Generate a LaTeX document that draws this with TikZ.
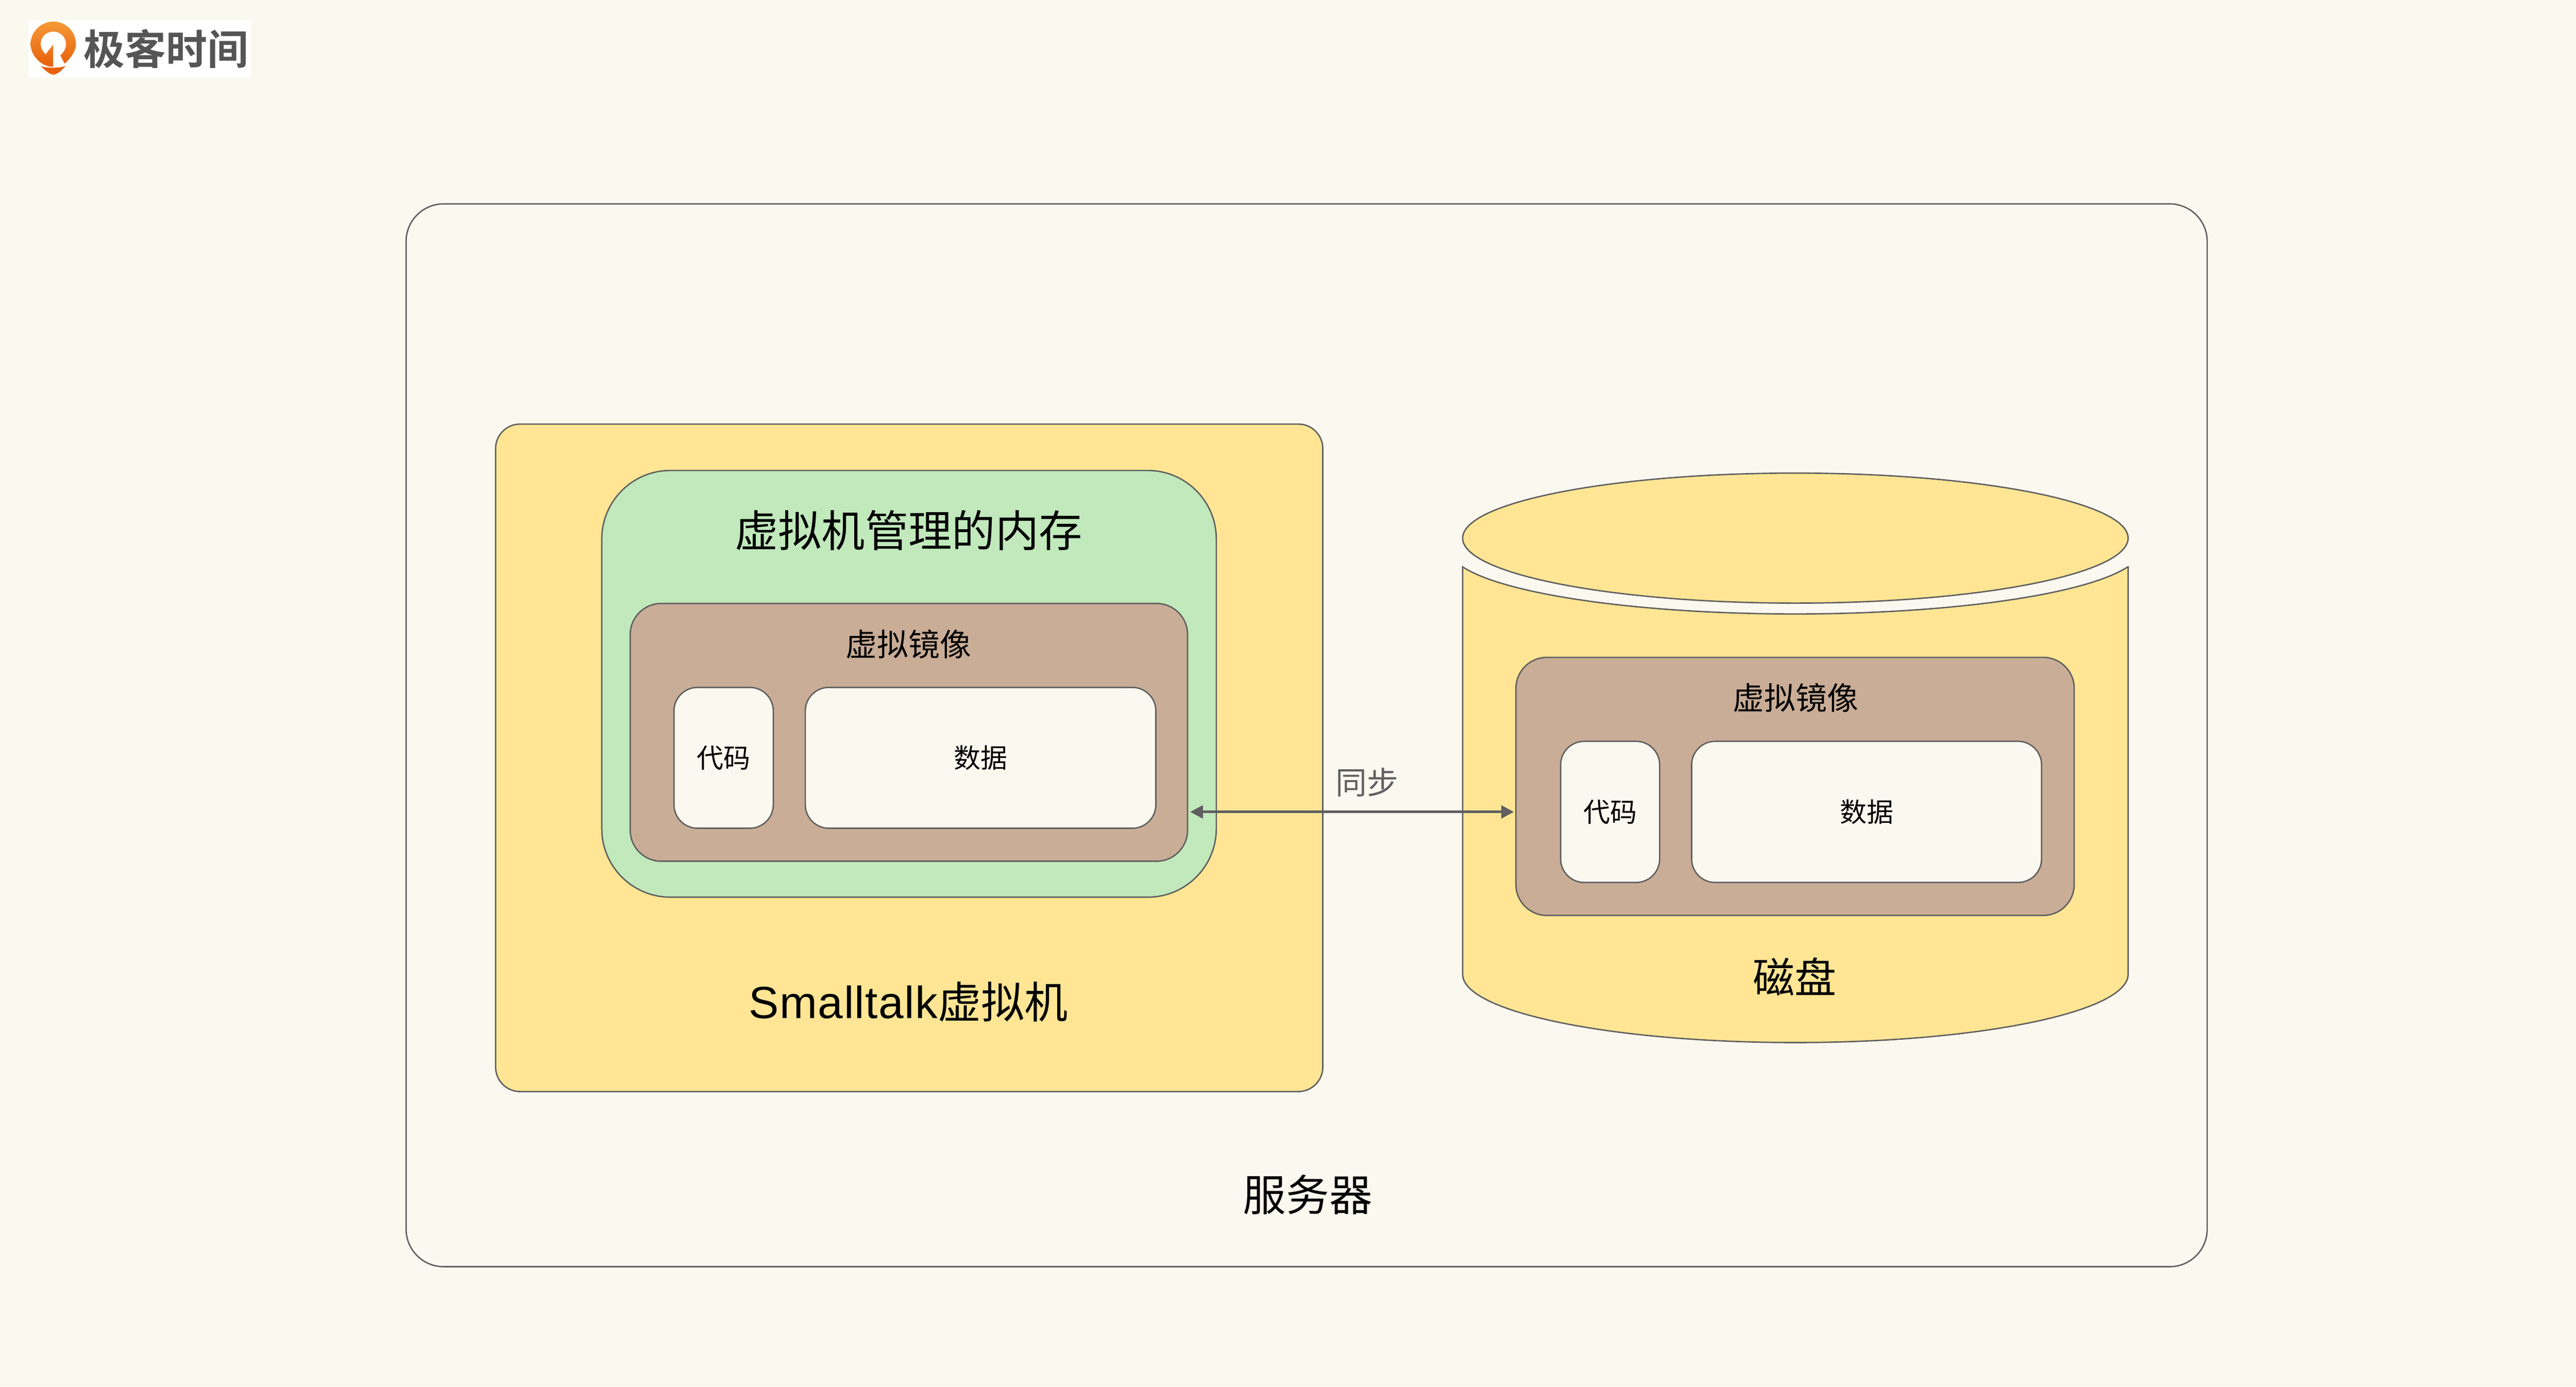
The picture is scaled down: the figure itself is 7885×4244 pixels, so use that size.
\documentclass[tikz,border=0pt]{standalone}
\usepackage{fontspec}
\usetikzlibrary{shapes.geometric,arrows.meta,calc}
\setmainfont{Noto Sans CJK SC}
\newfontfamily\logofont{Noto Sans CJK SC Bold}
\newfontfamily\latinfont[LetterSpace=1.6]{Liberation Sans}
\definecolor{bgc}{HTML}{FBF8F0}
\definecolor{edgec}{HTML}{5F5F5F}
\definecolor{yellowc}{HTML}{FFE594}
\definecolor{greenc}{HTML}{C1E9BC}
\definecolor{brownc}{HTML}{C9AD96}
\definecolor{logotop}{HTML}{F59A36}
\definecolor{logobot}{HTML}{E85F0C}
\definecolor{logogray}{HTML}{555555}
\tikzset{
  x=0.1pt,y=-0.1pt,
  framebox/.style={draw=edgec,line width=0.42pt,inner sep=0,outer sep=0},
  lbl/.style={inner sep=0,outer sep=0,text=black},
}
\newcommand{\bx}[7]{% name, x0, x1, y0, y1, radius, fill
  \node[framebox,fill=#7,rounded corners=#6*0.1pt,minimum width=(#3-#2)*0.1pt,minimum height=(#5-#4)*0.1pt] (#1) at ({(#2+#3)/2},{(#4+#5)/2}) {};
}
\begin{document}
\begin{tikzpicture}
\useasboundingbox (0,0) rectangle (7885,4244);
\fill[bgc] (0,0) rectangle (7885,4244);
% logo
\fill[white] (88,61) rectangle (768,237);
\begin{scope}[x=0.1pt/1.742,y=-0.1pt/3]
\path[top color=logotop,bottom color=logobot]
  (345,585) .. controls (385,520) and (405,460) .. (405,405)
  .. controls (405,290) and (350,198) .. (285,198)
  .. controls (220,198) and (163,290) .. (163,405)
  .. controls (163,500) and (215,613) .. (283,613)
  -- (283,412) -- (243,500)
  .. controls (228,470) and (217,440) .. (217,405)
  .. controls (217,340) and (245,290) .. (285,290)
  .. controls (322,290) and (352,340) .. (352,405)
  .. controls (352,445) and (340,480) .. (322,510) -- cycle;
\fill[logobot]
  (217,605) .. controls (245,628) and (320,628) .. (350,605)
  .. controls (330,645) and (305,685) .. (285,685)
  .. controls (265,685) and (240,645) .. (217,605) -- cycle;
\end{scope}
\node[inner sep=0,text=logogray,font=\logofont\fontsize{12.6pt}{12.6pt}\selectfont] (logotext) at (508,149) {极客时间};
% server
\bx{server}{1243}{6756}{624}{3877}{115}{bgc}
\bx{vm}{1517}{4049}{1298}{3341}{75}{yellowc}
\bx{mem}{1842}{3723}{1440}{2746}{210}{greenc}
\bx{imgL}{1929}{3635}{1847}{2636}{95}{brownc}
\bx{codeL}{2063}{2367}{2104}{2535}{72}{bgc}
\bx{dataL}{2465}{3538}{2104}{2535}{72}{bgc}
% disk
\draw[edgec,line width=0.42pt,fill=yellowc] (4477,1735) arc[start angle=164,end angle=16,x radius=1059,y radius=199] -- (6514,1735) -- (6514,2982) arc[start angle=0,end angle=180,x radius=1018.5,y radius=209] -- cycle;
\node[ellipse,framebox,fill=yellowc,minimum width=2037*0.1pt,minimum height=398*0.1pt] (disktop) at (5495.5,1647) {};
\bx{imgR}{4640}{6349}{2012}{2802}{95}{brownc}
\bx{codeR}{4777}{5080}{2269}{2701}{72}{bgc}
\bx{dataR}{5178}{6249}{2269}{2701}{72}{bgc}
% labels
\node[lbl,font=\fontsize{13.3pt}{13.3pt}\selectfont] (tmem) at (2781,1624) {虚拟机管理的内存};
\node[lbl,font=\fontsize{9.6pt}{9.6pt}\selectfont] (timgL) at (2781,1971) {虚拟镜像};
\node[lbl,font=\fontsize{8.2pt}{8.2pt}\selectfont] (tcodeL) at (codeL) {代码};
\node[lbl,font=\fontsize{8.2pt}{8.2pt}\selectfont] (tdataL) at (dataL) {数据};
\node[lbl,font=\fontsize{9.6pt}{9.6pt}\selectfont] (timgR) at (5496,2136) {虚拟镜像};
\node[lbl,font=\fontsize{8.2pt}{8.2pt}\selectfont] (tcodeR) at (codeR) {代码};
\node[lbl,font=\fontsize{8.2pt}{8.2pt}\selectfont] (tdataR) at (dataR) {数据};
\node[lbl,font=\fontsize{12.8pt}{12.8pt}\selectfont] (tdisk) at (5493,2990) {磁盘};
\node[lbl,font=\fontsize{13.3pt}{13.3pt}\selectfont] (tvm) at (2781,3067) {{\latinfont\fontsize{13.8pt}{13.8pt}\selectfont Smalltalk}虚拟机};
\node[lbl,font=\fontsize{13.2pt}{13.2pt}\selectfont] (tserver) at (4003,3656) {服务器};
\node[lbl,text=edgec,font=\fontsize{9.6pt}{9.6pt}\selectfont] (tsync) at (4185,2395) {同步};
% arrow
\coordinate (arrL) at (imgL.east |- codeR);
\coordinate (arrR) at (imgR.west |- codeR);
\draw[edgec,line width=0.84pt,{Triangle[length=3.9pt,width=3.9pt]}-{Triangle[length=3.9pt,width=3.9pt]},shorten <=0.8pt,shorten >=0.6pt] (arrL) -- (arrR);
\end{tikzpicture}
\end{document}
